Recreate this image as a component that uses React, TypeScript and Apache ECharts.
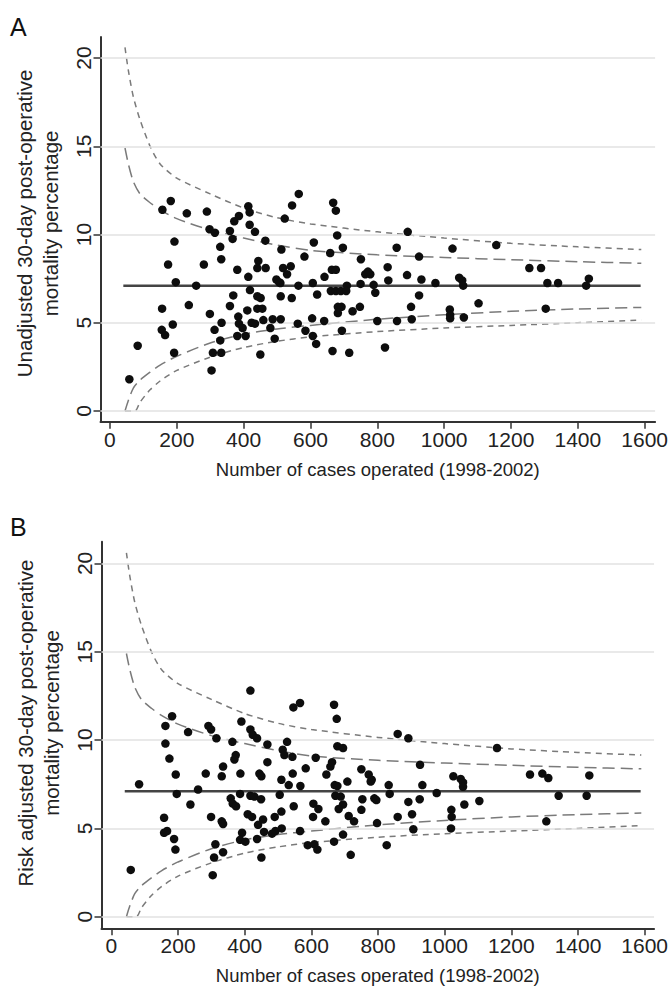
import React, { useEffect, useRef } from "react";
import * as echarts from "echarts";

const FONT = '"Liberation Sans", Arial, sans-serif';
const NARROW = '"Liberation Sans Narrow", "Arial Narrow", "Liberation Sans", Arial, sans-serif';

const xTickValues = [0, 200, 400, 600, 800, 1000, 1200, 1400, 1600];
const yTickValues = [0, 5, 10, 15, 20];
const gridValues = [0, 5, 10, 15, 20];

const MEAN = 7.1;
const meanN = [40, 1588];

const upperN = [45, 55, 70, 90, 120, 150, 200, 300, 400, 500, 600, 800, 1000, 1200, 1400, 1590];
const outerUpper = [20.6, 19.3, 17.8, 16.5, 15.0, 14.0, 13.2, 12.3, 11.5, 10.95, 10.6, 10.15, 9.8, 9.5, 9.3, 9.15];
const innerUpper = [14.9, 14.0, 13.0, 12.3, 11.8, 11.4, 10.9, 10.25, 9.8, 9.4, 9.1, 8.85, 8.7, 8.57, 8.46, 8.37];

const innerLowerN = [45, 55, 70, 90, 120, 150, 200, 300, 400, 500, 600, 800, 1000, 1200, 1400, 1590];
const innerLower = [0, 0.6, 1.3, 1.75, 2.2, 2.6, 3.1, 3.85, 4.35, 4.65, 4.85, 5.2, 5.45, 5.65, 5.78, 5.87];

const outerLowerN = [45, 75, 90, 120, 150, 200, 300, 400, 500, 600, 800, 1000, 1200, 1400, 1590];
const outerLower = [0, 0, 0.5, 1.2, 1.7, 2.3, 3.05, 3.6, 3.95, 4.2, 4.5, 4.7, 4.85, 5.0, 5.16];

const unadjusted: [number, number][] = [
  [58,1.8],[83,3.7],[157,11.4],[182,11.9],[193,9.6],[174,8.3],[197,7.3],[156,5.8],[155,4.6],[165,4.3],[188,4.9],[192,3.3],
  [230,11.2],[236,6.0],[258,7.1],[281,8.3],[290,11.3],[298,10.3],[314,10.1],[299,5.5],[313,4.6],[304,2.3],[308,3.3],[333,3.3],
  [330,4.0],[334,5.0],[330,9.3],[333,8.6],[359,10.2],[367,9.75],[372,10.75],[386,11.05],[414,11.6],[418,11.25],[418,10.55],
  [434,10.15],[465,9.65],[381,8.0],[414,7.6],[444,8.5],[466,8.1],[441,8.1],[369,6.55],[359,5.95],[419,6.85],[441,6.5],[451,6.4],
  [411,5.7],[441,5.8],[456,5.8],[384,5.35],[386,4.95],[397,4.7],[381,4.25],[406,4.25],[424,5.0],[434,4.95],[459,5.15],[450,3.2],
  [480,4.7],[493,4.1],[487,5.2],[511,5.2],[511,6.5],[544,6.4],[510,7.25],[498,7.45],[506,7.3],[513,9.15],[518,8.1],[541,8.2],
  [530,7.75],[564,7.1],[523,10.9],[545,11.65],[565,12.3],[582,8.75],[562,4.95],[585,4.55],[605,5.25],[607,4.25],[617,3.8],
  [620,6.6],[607,7.25],[610,9.55],[642,7.6],[641,5.1],[659,8.95],[664,8.0],[676,8.0],[661,6.8],[676,6.8],[691,6.8],[709,7.1],
  [707,6.8],[682,5.9],[693,5.9],[682,5.55],[694,4.55],[666,3.4],[716,3.3],[726,5.65],[748,5.9],[668,11.8],[676,11.35],[680,9.95],
  [697,9.25],[751,8.6],[750,7.2],[764,7.75],[779,7.75],[794,6.7],[800,5.1],[772,7.9],[789,7.15],
  [823,3.6],[831,8.15],[833,7.4],[858,9.25],[859,5.1],[891,10.15],[889,7.7],[901,5.9],[903,5.2],[925,8.75],[925,6.55],[932,7.45],
  [974,7.25],[1025,9.2],[1017,5.75],[1018,5.45],[1018,5.25],[1045,7.55],[1054,7.4],[1057,7.1],[1059,5.3],[1103,6.1],[1156,9.4],
  [1255,8.1],[1290,8.1],[1309,7.25],[1341,7.25],[1304,5.8],[1433,7.5],[1425,7.1],
];

const riskAdjusted: [number, number][] = [
  [58,2.65],[83,7.5],[417,12.8],[162,10.8],[182,11.35],[162,9.8],[174,8.95],[193,8.05],[196,6.95],[158,5.6],[158,4.75],[167,4.85],
  [188,4.4],[192,3.8],[230,10.45],[237,6.35],[260,7.2],[283,8.1],[291,10.8],[299,10.6],[315,10.1],[299,5.65],[331,5.4],[335,5.25],
  [312,4.1],[308,3.35],[335,3.65],[304,2.35],[335,8.5],[331,7.95],[363,9.9],[373,9.15],[369,8.9],[387,8.1],[390,11.05],[417,10.6],
  [424,10.3],[437,10.1],[468,9.75],[468,8.75],[444,8.1],[450,7.95],[358,6.7],[364,6.4],[374,6.25],[386,6.95],[417,6.85],[429,6.8],
  [449,6.65],[409,5.8],[422,5.65],[440,5.2],[455,5.5],[490,5.65],[510,5.95],[492,4.85],[458,4.8],[482,4.7],[511,5.0],[392,4.75],
  [386,4.35],[402,4.25],[437,4.4],[450,3.35],[505,6.9],[510,7.75],[532,7.45],[544,8.1],[567,7.4],[514,9.45],[527,9.9],[519,9.15],
  [543,9.05],[546,11.85],[566,12.1],[547,6.25],[566,4.85],[583,8.4],[589,4.05],[609,4.1],[618,3.8],[606,6.4],[621,6.1],[605,5.65],
  [613,9.0],[645,8.05],[642,5.4],[657,8.5],[662,8.75],[668,12.0],[676,11.2],[678,9.65],[695,9.55],[670,7.45],[678,7.4],[672,6.85],
  [688,6.8],[695,6.35],[682,6.1],[668,4.25],[695,4.65],[718,3.5],[708,7.65],[712,5.7],[728,5.4],[750,6.05],[753,6.65],[750,8.35],
  [772,8.05],[781,7.75],[789,6.7],[797,5.3],[778,7.65],[795,6.6],
  [826,4.05],[832,7.45],[835,6.95],[859,10.35],[891,10.1],[891,6.5],[859,5.65],[902,5.8],[906,4.95],[926,8.6],[933,7.45],[925,6.65],
  [976,7.0],[1026,7.95],[1048,7.8],[1055,7.6],[1055,7.35],[1059,6.35],[1020,6.05],[1021,5.65],[1019,5.0],[1104,6.55],[1157,9.55],
  [1256,8.05],[1293,8.1],[1311,7.85],[1342,6.85],[1305,5.4],[1434,8.0],[1426,6.85],
];

const xTitle = "Number of cases operated (1998-2002)";
const yTitleA = "Unadjusted 30-day post-operative\nmortality percentage";
const yTitleB = "Risk adjusted 30-day post-operative\nmortality percentage";

const zip = (xs: number[], ys: number[]) => xs.map((x, i) => [x, ys[i]]);
const plain = (v: number) => String(v);

function axisX(gridIndex: number, min: number, max: number) {
  return {
    type: "value", gridIndex, min, max,
    axisLine: { show: true, onZero: false, lineStyle: { color: "#333", width: 2 } },
    axisTick: { show: true, customValues: xTickValues, length: 7, lineStyle: { color: "#333", width: 1.5 } },
    axisLabel: { customValues: xTickValues, formatter: plain, margin: 7, fontSize: 21, fontFamily: NARROW, color: "#222" },
    splitLine: { show: false },
    name: xTitle, nameLocation: "middle", nameGap: 38,
    nameTextStyle: { fontSize: 18.5, fontFamily: FONT, color: "#222" },
  };
}

function axisY(gridIndex: number, min: number, max: number, title: string, shift: number) {
  return {
    type: "value", gridIndex, min, max,
    axisLine: { show: true, onZero: false, lineStyle: { color: "#333", width: 2 } },
    axisTick: { show: true, customValues: yTickValues, length: 7, lineStyle: { color: "#333", width: 1.5 } },
    axisLabel: { customValues: yTickValues, formatter: plain, rotate: 90, margin: 7, fontSize: 21, fontFamily: NARROW, color: "#222" },
    splitLine: { show: false },
    name: title, nameLocation: "middle", nameGap: 37,
    nameTextStyle: { fontSize: 20.5, lineHeight: 26, fontFamily: FONT, color: "#222", padding: [0, 0, 0, shift] },
  };
}

function panelSeries(idx: number, pts: [number, number][]) {
  const base = { xAxisIndex: idx, yAxisIndex: idx };
  const dashed = (data: number[][], dash: number[]) => ({
    ...base, type: "line", data, showSymbol: false, smooth: 0.25, silent: true, z: 3,
    lineStyle: { color: "#7a7a7a", width: 1.5, type: dash },
  });
  return [
    {
      ...base, type: "line", data: [], silent: true, z: 1,
      markLine: {
        silent: true, symbol: ["none", "none"], label: { show: false },
        lineStyle: { color: "#e2e2e2", width: 1.5, type: "solid" },
        data: gridValues.map((v) => ({ yAxis: v })),
      },
    },
    {
      ...base, type: "line", data: meanN.map((n) => [n, MEAN]), showSymbol: false, silent: true, z: 4,
      lineStyle: { color: "#444", width: 2.5 },
    },
    dashed(zip(upperN, outerUpper), [6, 5]),
    dashed(zip(upperN, innerUpper), [12, 6]),
    dashed(zip(innerLowerN, innerLower), [12, 6]),
    dashed(zip(outerLowerN, outerLower), [6, 5]),
    {
      ...base, type: "scatter", data: pts, symbol: "circle", symbolSize: 8.5, z: 5,
      itemStyle: { color: "#0d0d0d", opacity: 1 },
    },
  ];
}

export default function App() {
  const ref = useRef<HTMLDivElement>(null);
  useEffect(() => {
    if (!ref.current) return;
    const chart = echarts.init(ref.current, undefined, { renderer: "svg" });
    chart.setOption({
      animation: false,
      backgroundColor: "#fff",
      grid: [
        { left: 100.5, top: 37, width: 557.5, height: 384.7 },
        { left: 101.5, top: 541.7, width: 557, height: 386.6 },
      ],
      xAxis: [axisX(0, -28.3, 1631.3), axisX(1, -29.8, 1628.3)],
      yAxis: [axisY(0, -0.606, 21.19, yTitleA, 12), axisY(1, -0.657, 21.23, yTitleB, 24)],
      graphic: [
        { type: "text", left: 10, top: 14, style: { text: "A", fontSize: 25, fontFamily: FONT, fill: "#111" } },
        { type: "text", left: 10, top: 514, style: { text: "B", fontSize: 25, fontFamily: FONT, fill: "#111" } },
      ],
      series: [...panelSeries(0, unadjusted), ...panelSeries(1, riskAdjusted)],
    });
    return () => chart.dispose();
  }, []);
  return <div ref={ref} style={{ position: "absolute", left: 0, top: 0, width: 671, height: 987 }} />;
}
